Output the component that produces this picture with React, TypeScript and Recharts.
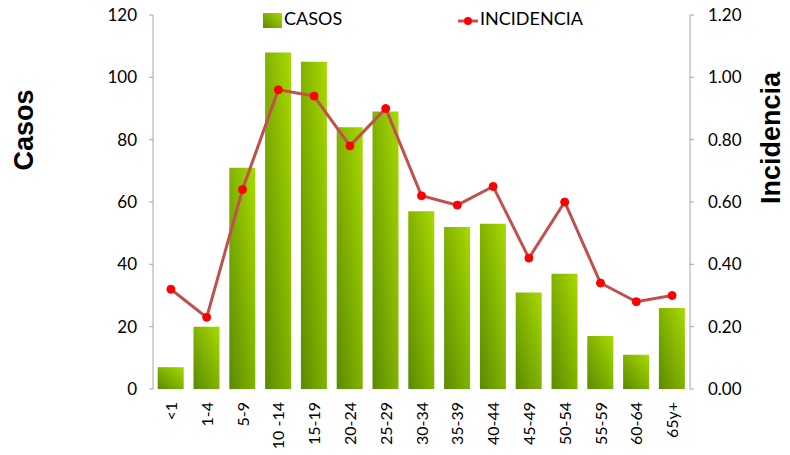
import React from "react"
import {
  Bar,
  ComposedChart,
  Line,
  XAxis,
  YAxis,
} from "recharts"

const grupos = ["<1", "1-4", "5-9", "10 -14", "15-19", "20-24", "25-29", "30-34", "35-39", "40-44", "45-49", "50-54", "55-59", "60-64", "65y+"]
const casos = [7, 20, 71, 108, 105, 84, 89, 57, 52, 53, 31, 37, 17, 11, 26]
const incidencia = [0.32, 0.23, 0.64, 0.96, 0.94, 0.78, 0.9, 0.62, 0.59, 0.65, 0.42, 0.6, 0.34, 0.28, 0.3]
const casosTicks = [0, 20, 40, 60, 80, 100, 120]
const incTicks = [0, 0.2, 0.4, 0.6, 0.8, 1.0, 1.2]
const bordes = Array.from({ length: grupos.length + 1 }, (_, i) => i)

const data = grupos.map((g, i) => ({ grupo: g, idx: i + 0.5, casos: casos[i], incidencia: incidencia[i] }))

const FONT = "Lato, 'Open Sans', sans-serif"
const AXIS = "#a6a6a6"

function RotTick({ x, y, payload }: any) {
  // texto vertical, leído de abajo hacia arriba, empezando justo bajo el eje
  const ty = y + 5
  return (
    <text
      x={x}
      y={ty}
      transform={`rotate(-90 ${x} ${ty})`}
      textAnchor="end"
      dy={6}
      fontSize={16}
      fontFamily={FONT}
      fill="#000"
    >
      {payload.value}
    </text>
  )
}

// leyenda encima del gráfico, sin robar espacio al área de trazado
function Leyenda() {
  return (
    <div style={{ position: "absolute", left: 0, top: 0, width: 790, height: 30, fontFamily: FONT, fontSize: 18, color: "#000" }}>
      <div style={{ position: "absolute", left: 263, top: 13, width: 19, height: 15, background: "linear-gradient(45deg, #5e8c00, #a6d800)" }} />
      <span style={{ position: "absolute", left: 284, top: 7 }}>CASOS</span>
      <svg style={{ position: "absolute", left: 457, top: 14 }} width={22} height={14}>
        <line x1={1} y1={7} x2={21} y2={7} stroke="#c0504d" strokeWidth={3} />
        <circle cx={11} cy={7} r={4} fill="#ff0000" />
      </svg>
      <span style={{ position: "absolute", left: 480, top: 7 }}>INCIDENCIA</span>
    </div>
  )
}

export default function App() {
  return (
    <div style={{ position: "absolute", left: 0, top: 0, width: 790, height: 455, background: "#fff" }}>
      <ComposedChart width={790} height={455} data={data} margin={{ top: 15, right: 0, bottom: 0, left: 0 }} barCategoryGap={4.7}>
        <defs>
          <linearGradient id="verde" x1="0" y1="1" x2="1" y2="0">
            <stop offset="0%" stopColor="#5a8a00" />
            <stop offset="100%" stopColor="#a8da00" />
          </linearGradient>
        </defs>
        <XAxis
          xAxisId="b"
          type="number"
          dataKey="idx"
          domain={[0, grupos.length]}
          ticks={bordes}
          height={0}
          stroke={AXIS}
          tickSize={5}
          tick={false}
          allowDataOverflow
        />
        <XAxis
          xAxisId="cat"
          dataKey="grupo"
          height={66}
          axisLine={false}
          tickLine={false}
          tickSize={6}
          tickMargin={2}
          interval={0}
          tick={<RotTick />}
        />
        <YAxis
          yAxisId="l"
          domain={[0, 120]}
          ticks={casosTicks}
          width={153}
          stroke={AXIS}
          tickSize={4}
          tickMargin={12}
          tick={{ fill: "#000", fontSize: 17, fontFamily: FONT }}
          label={() => (
            <text
              x={33}
              y={130}
              transform="rotate(-90 33 130)"
              textAnchor="middle"
              fontSize={27}
              fontWeight="bold"
              fontFamily="'Liberation Sans', Arial, sans-serif"
              fill="#000"
            >
              Casos
            </text>
          )}
        />
        <YAxis
          yAxisId="r"
          orientation="right"
          domain={[0, 1.2]}
          ticks={incTicks}
          width={100}
          stroke={AXIS}
          tickSize={4}
          tickMargin={14}
          tickFormatter={(v: number) => v.toFixed(2)}
          tick={{ fill: "#000", fontSize: 17, fontFamily: FONT }}
          label={() => (
            <text
              x={780}
              y={138}
              transform="rotate(-90 780 138)"
              textAnchor="middle"
              fontSize={27}
              fontWeight="bold"
              fontFamily="'Liberation Sans', Arial, sans-serif"
              fill="#000"
            >
              Incidencia
            </text>
          )}
        />
        <Bar xAxisId="cat" yAxisId="l" dataKey="casos" name="CASOS" fill="url(#verde)" isAnimationActive={false} />
        <Line
          xAxisId="cat"
          yAxisId="r"
          dataKey="incidencia"
          name="INCIDENCIA"
          stroke="#c0504d"
          strokeWidth={3}
          dot={{ r: 4, fill: "#ff0000", stroke: "#ff0000", strokeWidth: 1 }}
          isAnimationActive={false}
        />
      </ComposedChart>
      <Leyenda />
    </div>
  )
}
